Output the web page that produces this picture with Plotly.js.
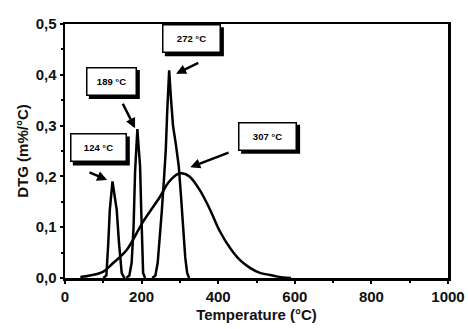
<!DOCTYPE html>
<html>
<head>
<meta charset="utf-8">
<script src="https://cdn.plot.ly/plotly-3.0.1.min.js"></script>
<style>html,body{margin:0;padding:0;background:#fff;}#chart{width:468px;height:329px;}</style>
</head>
<body>
<div id="chart"></div>
<script>
// Peak 1 (124 °C)
var peak1T = [100, 108, 113, 117, 124, 129, 135, 141, 148, 155];
var peak1V = [0, 0.005, 0.069, 0.134, 0.19, 0.165, 0.134, 0.069, 0.01, 0];
// Peak 2 (189 °C)
var peak2T = [160, 168, 174, 179, 183, 186, 189, 192, 196, 199, 201, 204, 209];
var peak2V = [0, 0.005, 0.03, 0.1, 0.21, 0.26, 0.293, 0.26, 0.22, 0.134, 0.07, 0.01, 0];
// Peak 3 (272 °C)
var peak3T = [228, 236, 242, 248, 253, 258, 263, 267, 272, 276, 282, 290, 297, 303, 309, 314, 319, 324];
var peak3V = [0, 0.005, 0.03, 0.08, 0.134, 0.19, 0.25, 0.33, 0.409, 0.36, 0.3, 0.26, 0.22, 0.16, 0.09, 0.04, 0.01, 0];
// Broad peak (307 °C)
var peak4T = [40, 65, 99, 125, 161, 204, 248, 270, 295, 305, 325, 352, 379, 405, 431, 457, 483, 509, 535, 569, 590];
var peak4V = [0.002, 0.005, 0.012, 0.029, 0.055, 0.111, 0.16, 0.188, 0.205, 0.206, 0.2, 0.173, 0.134, 0.091, 0.059, 0.035, 0.02, 0.01, 0.006, 0.001, 0];

// Labels: text, box centre (T, v), arrow tail (T, v), arrow head (T, v)
var labelText = ['124 °C', '189 °C', '272 °C', '307 °C'];
var labelBoxT = [87, 121, 330, 529];
var labelBoxV = [0.256, 0.387, 0.471, 0.279];
var labelBoxW = [54, 48, 56, 56];
var labelBoxH = 26;
var arrowTailT = [60, 149, 352, 431];
var arrowTailV = [0.209, 0.346, 0.425, 0.248];
var arrowHeadT = [110, 183, 290, 327];
var arrowHeadV = [0.193, 0.295, 0.402, 0.218];

var traces = [
  {x: peak4T, y: peak4V, mode: 'lines', line: {color: '#000', width: 2.5, shape: 'spline'}},
  {x: peak1T, y: peak1V, mode: 'lines', line: {color: '#000', width: 2.5}},
  {x: peak2T, y: peak2V, mode: 'lines', line: {color: '#000', width: 2.5}},
  {x: peak3T, y: peak3V, mode: 'lines', line: {color: '#000', width: 2.5}}
];

var annotations = [];
var shapes = [];
for (var i = 0; i < labelText.length; i++) {
  var w = labelBoxW[i] + 3, h = labelBoxH + 3;
  // drop shadow
  shapes.push({
    type: 'rect', xref: 'x', yref: 'y', xsizemode: 'pixel', ysizemode: 'pixel',
    xanchor: labelBoxT[i], yanchor: labelBoxV[i],
    x0: -w / 2 + 3, x1: w / 2 + 3, y0: -h / 2 - 3, y1: h / 2 - 3,
    fillcolor: '#000', line: {width: 0}, layer: 'above'
  });
  // box
  annotations.push({
    x: labelBoxT[i], y: labelBoxV[i], xref: 'x', yref: 'y',
    text: '<b>' + labelText[i] + '</b>', showarrow: false,
    width: labelBoxW[i], height: labelBoxH, borderpad: 0,
    bgcolor: '#fff', bordercolor: '#000', borderwidth: 1.5,
    font: {family: 'Liberation Sans, Arial', size: 9.5, color: '#000'}
  });
  // arrow
  annotations.push({
    x: arrowHeadT[i], y: arrowHeadV[i], xref: 'x', yref: 'y',
    ax: arrowTailT[i], ay: arrowTailV[i], axref: 'x', ayref: 'y',
    text: '', showarrow: true, arrowhead: 2, arrowsize: 0.8, arrowwidth: 2.5, arrowcolor: '#000'
  });
}

var tickFont = {family: 'Liberation Sans, Arial', size: 15, color: '#111', weight: 'bold'};
var titleFont = {family: 'Liberation Sans, Arial', size: 15, color: '#111', weight: 'bold'};
var layout = {
  width: 468, height: 329,
  margin: {l: 65, r: 20, t: 24, b: 51},
  paper_bgcolor: '#fff', plot_bgcolor: '#fff',
  showlegend: false,
  separators: ',.',
  xaxis: {
    range: [0, 1000], tickvals: [0, 200, 400, 600, 800, 1000],
    ticks: 'outside', ticklen: 3, tickwidth: 2, tickcolor: '#000',
    minor: {dtick: 100, ticks: 'outside', ticklen: 2, tickwidth: 2, tickcolor: '#000'},
    showgrid: false, zeroline: false,
    showline: true, linecolor: '#000', linewidth: 2.5, mirror: true,
    tickfont: tickFont, automargin: false,
    title: {text: 'Temperature (°C)', font: titleFont, standoff: 6}
  },
  yaxis: {
    range: [0, 0.5], tickvals: [0, 0.1, 0.2, 0.3, 0.4, 0.5], tickformat: '.1f',
    ticks: 'outside', ticklen: 3, tickwidth: 2, tickcolor: '#000',
    minor: {dtick: 0.05, ticks: 'outside', ticklen: 2, tickwidth: 2, tickcolor: '#000'},
    showgrid: false, zeroline: false,
    showline: true, linecolor: '#000', linewidth: 2.5, mirror: true,
    tickfont: tickFont, automargin: false,
    title: {text: 'DTG (m%/°C)', font: titleFont, standoff: 4}
  },
  shapes: shapes,
  annotations: annotations
};

Plotly.newPlot('chart', traces, layout, {staticPlot: true, displayModeBar: false});
</script>
</body>
</html>
